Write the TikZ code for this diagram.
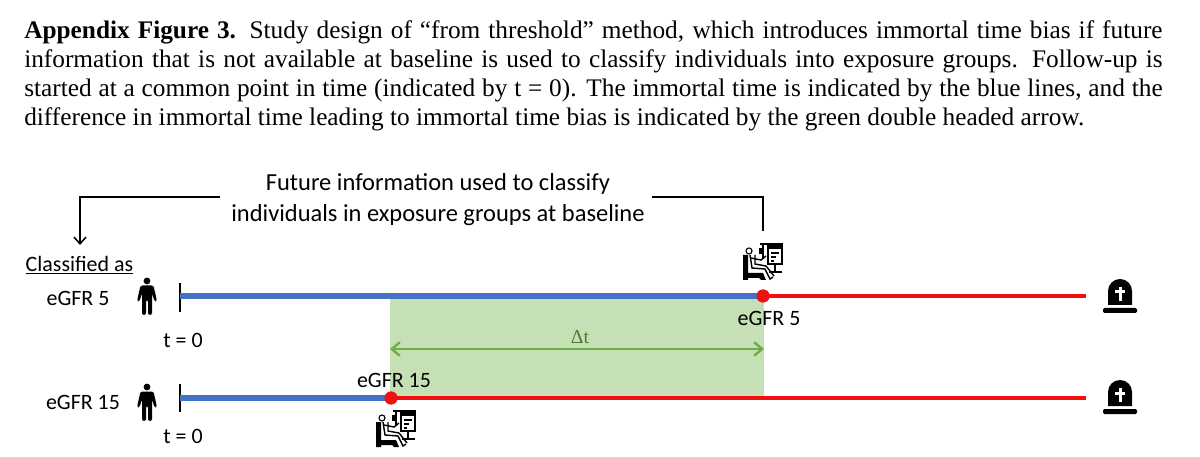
\documentclass[tikz,border=0pt]{standalone}
\usepackage{fontspec}
\setmainfont{Liberation Serif}
\newfontfamily\figfont{Carlito}
\usepackage{xcolor}
\usetikzlibrary{arrows.meta}
\definecolor{bluetime}{HTML}{4472C4}
\definecolor{redtime}{HTML}{F01010}
\definecolor{greendiff}{HTML}{70AD47}
\definecolor{greenfill}{HTML}{C5E0B4}

\tikzset{
  personicon/.pic={
    \fill (0,-16) circle (3.4);
    \fill[rounded corners=1.5] (-6.5,-11.5) -- (6.5,-11.5) -- (10,4) -- (7.5,4.5) -- (5,-4) -- (5,18) -- (1,18) -- (1,3)
      -- (-1,3) -- (-1,18) -- (-5,18) -- (-5,-4) -- (-7.5,4.5) -- (-10,4) -- cycle;
  },
  graveicon/.pic={
    \fill (-12,9) -- (-12,-5) arc[start angle=180, end angle=360, radius=12] -- (12,9) -- cycle;
    \fill[rounded corners=1] (-17,12) rectangle (17,17);
    \fill[white] (-1.5,-9) rectangle (1.5,5);
    \fill[white] (-5,-5.5) rectangle (5,-2.5);
  },
  patienticon/.pic={
    % chair and seat
    \fill (-20,-6) -- (-15,-6) -- (-15,12) -- (0,12) -- (3,19) -- (-2,19) -- (-4,17) -- (-15,17) -- (-15,19) -- (-20,19) -- cycle;
    % patient
    \draw[line width=0.8] (-14,-10) circle (3);
    \draw[line width=1] (-13,-6) -- (-11,7) -- (2,8) -- (7,18) -- (10,16);
    \draw[line width=1] (-8,-6) -- (-8,3) -- (3,5) -- (11,15);
    \draw[line width=1] (-12,-3) -- (-2,-1) -- (3,-5);
    % drip and monitor
    \fill (-4,-13) rectangle (1,-7);
    \draw[line width=0.8] (0,-18) -- (0,-2) (-3,-17) -- (4,-17);
    \draw[line width=0.8] (5,-17) rectangle (19,3);
    \fill (5,-17) rectangle (19,-12);
    \draw[line width=0.9] (8,-8) -- (16,-8) (8,-4) -- (13,-4) (8,0) -- (11,0);
    \draw[line width=1] (12,3) -- (12,11) (6,11) -- (19,11);
  },
  barblack/.tip={Straight Barb[length=0.17cm, width=0.3cm, line width=1.1pt]},
  bargreen/.tip={Straight Barb[length=0.2cm, width=0.34cm, line width=1.7pt]}
}

\begin{document}
\begin{tikzpicture}[x=0.025cm, y=-0.025cm, every node/.style={inner sep=0pt, font=\figfont\fontsize{15.6}{19}\selectfont}]

  % --- horizontal positions ---
  \def\xtick{180}
  \def\xshort{391}
  \def\xlong{763}
  \def\xend{1086}

  % --- vertical positions of the two time lines ---
  \def\ya{296}
  \def\yb{398}

  \useasboundingbox (0,0) rectangle (1200,457);

  % ============================================================
  % Caption
  % ============================================================
  \node[anchor=north west, text width=28.45cm, align=justify, font=\fontsize{18}{20.7}\selectfont] (caption) at (24,20)
    {\textbf{Appendix Figure 3.} Study design of “from threshold” method, which introduces immortal time bias if future\linebreak
     information that is not available at baseline is used to classify individuals into exposure groups. Follow-up is\linebreak
     started at a common point in time (indicated by t = 0). The immortal time is indicated by the blue lines, and the\linebreak
     difference in immortal time leading to immortal time bias is indicated by the green double headed arrow.};

  % ============================================================
  % Green area between the two classification moments
  % ============================================================
  \fill[greenfill] (390,299) rectangle (764,396);

  % ============================================================
  % Future information and its two connectors
  % ============================================================
  \node[align=center, font=\figfont\fontsize{17.4}{22}\selectfont] (future) at (438,200) {Future information used to classify\\individuals in exposure groups at baseline};
  \node (classified) at (79.5,265) {\underline{Classified as}};
  \coordinate (leftstart) at (220,197);
  \coordinate (leftcorner) at (80,197);
  \coordinate (lefttip) at (80,245);
  \coordinate (rightstart) at (652,197);
  \coordinate (rightcorner) at (763,197);
  \coordinate (rightend) at (763,231);
  \draw[-barblack, line width=1.2] (leftstart) -- (leftcorner) -- (lefttip);
  \draw[line width=1.2] (rightstart) -- (rightcorner) -- (rightend);

  % ============================================================
  % Upper line: eGFR 5
  % ============================================================
  \node (groupa) at (78,298) {eGFR 5};
  \pic at (147,297) {personicon};
  \coordinate (starta) at (\xtick,\ya);
  \coordinate (enda) at (\xend,\ya);
  \coordinate (ticktopa) at (\xtick,283);
  \coordinate (tickbota) at (\xtick,312);
  \node[circle, fill=redtime, minimum size=13*0.025cm] (dota) at (\xlong,\ya) {};
  \draw[line width=0.9] (ticktopa) -- (tickbota);
  \draw[bluetime, line width=4.4] (starta) -- (dota.center);
  \draw[redtime, line width=3] (dota.center) -- (enda);
  \node[circle, fill=redtime, minimum size=13*0.025cm] at (dota.center) {};
  \node (labela) at (769,318) {eGFR 5};
  \node (zeroa) at (183,340) {t = 0};
  \pic at (763,261) {patienticon};
  \pic at (1120,296) {graveicon};

  % ============================================================
  % Lower line: eGFR 15
  % ============================================================
  \node (groupb) at (83,402) {eGFR 15};
  \pic at (147,403) {personicon};
  \coordinate (startb) at (\xtick,\yb);
  \coordinate (endb) at (\xend,\yb);
  \coordinate (ticktopb) at (\xtick,384);
  \coordinate (tickbotb) at (\xtick,412);
  \node[circle, fill=redtime, minimum size=13*0.025cm] (dotb) at (\xshort,\yb) {};
  \draw[line width=0.9] (ticktopb) -- (tickbotb);
  \draw[bluetime, line width=4.4] (startb) -- (dotb.center);
  \draw[redtime, line width=3] (dotb.center) -- (endb);
  \node[circle, fill=redtime, minimum size=13*0.025cm] at (dotb.center) {};
  \node (labelb) at (394,380) {eGFR 15};
  \node (zerob) at (183,436) {t = 0};
  \pic at (396,428) {patienticon};
  \pic at (1120,397) {graveicon};

  % ============================================================
  % Difference in immortal time
  % ============================================================
  \coordinate (diffl) at (390,349);
  \coordinate (diffr) at (764,349);
  \draw[bargreen-bargreen, greendiff, line width=1.7] (diffl) -- (diffr);
  \node[font=\fontsize{14}{16}\selectfont, text=greendiff!70!black] (delta) at (580,337) {Δt};

\end{tikzpicture}
\end{document}
